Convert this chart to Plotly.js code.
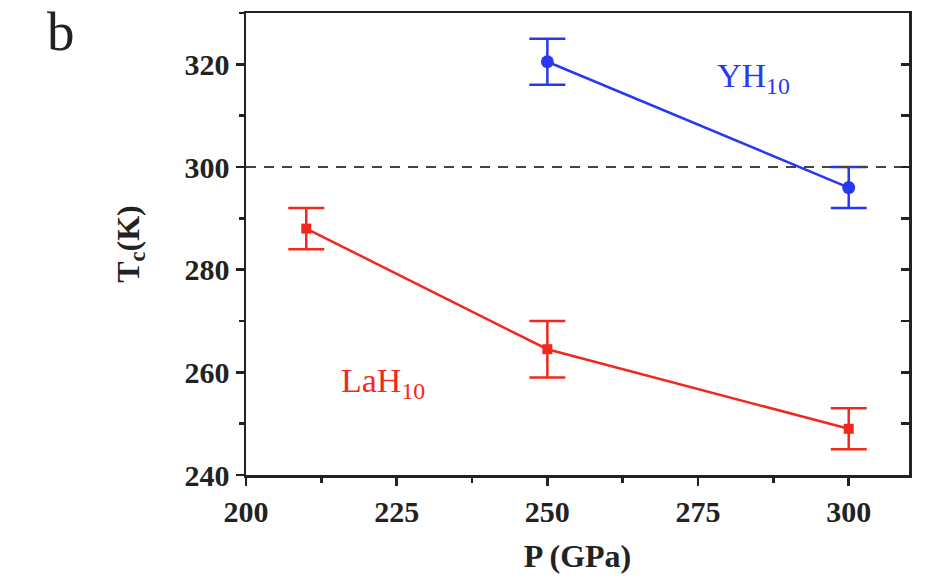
<!DOCTYPE html>
<html><head><meta charset="utf-8">
<script src="https://cdn.plot.ly/plotly-3.0.1.min.js"></script>
<style>body{margin:0;background:#fff}#c{width:931px;height:579px}</style>
</head><body><div id="c"></div>
<script>
const pressureLa = [210, 250, 300];
const tcLa = [288, 264.5, 249];
const errLa = [4, 5.5, 4];
const pressureY = [250, 300];
const tcY = [320.5, 296];
const errY = [4.5, 4];
const xTicks = [200, 225, 250, 275, 300];
const yTicks = [240, 260, 280, 300, 320];
const refLine = 300;

const blue = '#2838f2', red = '#f2281e';
const serif = "'Liberation Serif', 'Times New Roman', serif";

const traces = [
  {x: pressureLa, y: tcLa, type: 'scatter', mode: 'lines+markers',
   line: {color: red, width: 2.5}, marker: {symbol: 'square', size: 10, color: red},
   error_y: {type: 'data', array: errLa, visible: true, color: red, thickness: 2.5, width: 18}},
  {x: pressureY, y: tcY, type: 'scatter', mode: 'lines+markers',
   line: {color: blue, width: 2.5}, marker: {symbol: 'circle', size: 13, color: blue},
   error_y: {type: 'data', array: errY, visible: true, color: blue, thickness: 2.5, width: 18}},
  {x: [200, 310], y: [refLine, refLine], type: 'scatter', mode: 'lines',
   line: {color: '#444', width: 2, dash: '10px,8px'}, hoverinfo: 'skip'},
  {x: [200], y: [240], xaxis: 'x2', yaxis: 'y2', type: 'scatter', mode: 'markers',
   marker: {opacity: 0}, hoverinfo: 'skip'}
];

const tickFont = {family: serif, size: 30, color: '#222', weight: 'bold'};
const layout = {
  width: 931, height: 579, showlegend: false,
  paper_bgcolor: '#fff', plot_bgcolor: '#fff',
  margin: {l: 246, r: 22, t: 13, b: 104},
  xaxis: {range: [200, 310], tickvals: xTicks, ticks: 'outside', ticklen: 8, tickwidth: 2.5,
    tickcolor: '#222', showline: true, linecolor: '#222', linewidth: 2.5, showgrid: false, zeroline: false,
    tickfont: tickFont, minor: {dtick: 12.5, tick0: 200, ticks: 'outside', ticklen: 5, tickwidth: 2.5, tickcolor: '#222'},
    title: {text: 'P (GPa)', font: {family: serif, size: 32, color: '#222', weight: 'bold'}, standoff: 18}},
  yaxis: {range: [240, 330], tickvals: yTicks, ticks: 'outside', ticklen: 8, tickwidth: 2.5,
    tickcolor: '#222', showline: true, linecolor: '#222', linewidth: 2.5, showgrid: false, zeroline: false,
    tickfont: tickFont, minor: {dtick: 10, tick0: 240, ticks: 'outside', ticklen: 5, tickwidth: 2.5, tickcolor: '#222'},
    title: {text: 'T<sub>c</sub>(K)', font: {family: serif, size: 32, color: '#222', weight: 'bold'}, standoff: 36}},
  xaxis2: {overlaying: 'x', side: 'top', range: [200, 310], showline: true, linecolor: '#222', linewidth: 2.5,
    ticks: '', showticklabels: false, showgrid: false, zeroline: false},
  yaxis2: {overlaying: 'y', side: 'right', range: [240, 330], tickvals: yTicks, ticks: 'inside', ticklen: 8, tickwidth: 2.5,
    tickcolor: '#222', showline: true, linecolor: '#222', linewidth: 2.5, showticklabels: false, showgrid: false, zeroline: false,
    minor: {dtick: 10, tick0: 240, ticks: 'inside', ticklen: 8, tickwidth: 2.5, tickcolor: '#222'}},
  annotations: [
    {xref: 'paper', yref: 'paper', x: 0.765, y: 0.86, xanchor: 'center', yanchor: 'middle',
     text: 'YH<sub>10</sub>', showarrow: false, font: {family: serif, size: 34, color: blue}},
    {xref: 'paper', yref: 'paper', x: 0.207, y: 0.2, xanchor: 'center', yanchor: 'middle',
     text: 'LaH<sub>10</sub>', showarrow: false, font: {family: serif, size: 34, color: red}},
    {xref: 'paper', yref: 'paper', x: -0.303, y: 1.03, xanchor: 'left', yanchor: 'top', text: 'b', showarrow: false,
     font: {family: serif, size: 55, color: '#222'}}
  ]
};
Plotly.newPlot('c', traces, layout, {displayModeBar: false, staticPlot: true});
</script></body></html>
